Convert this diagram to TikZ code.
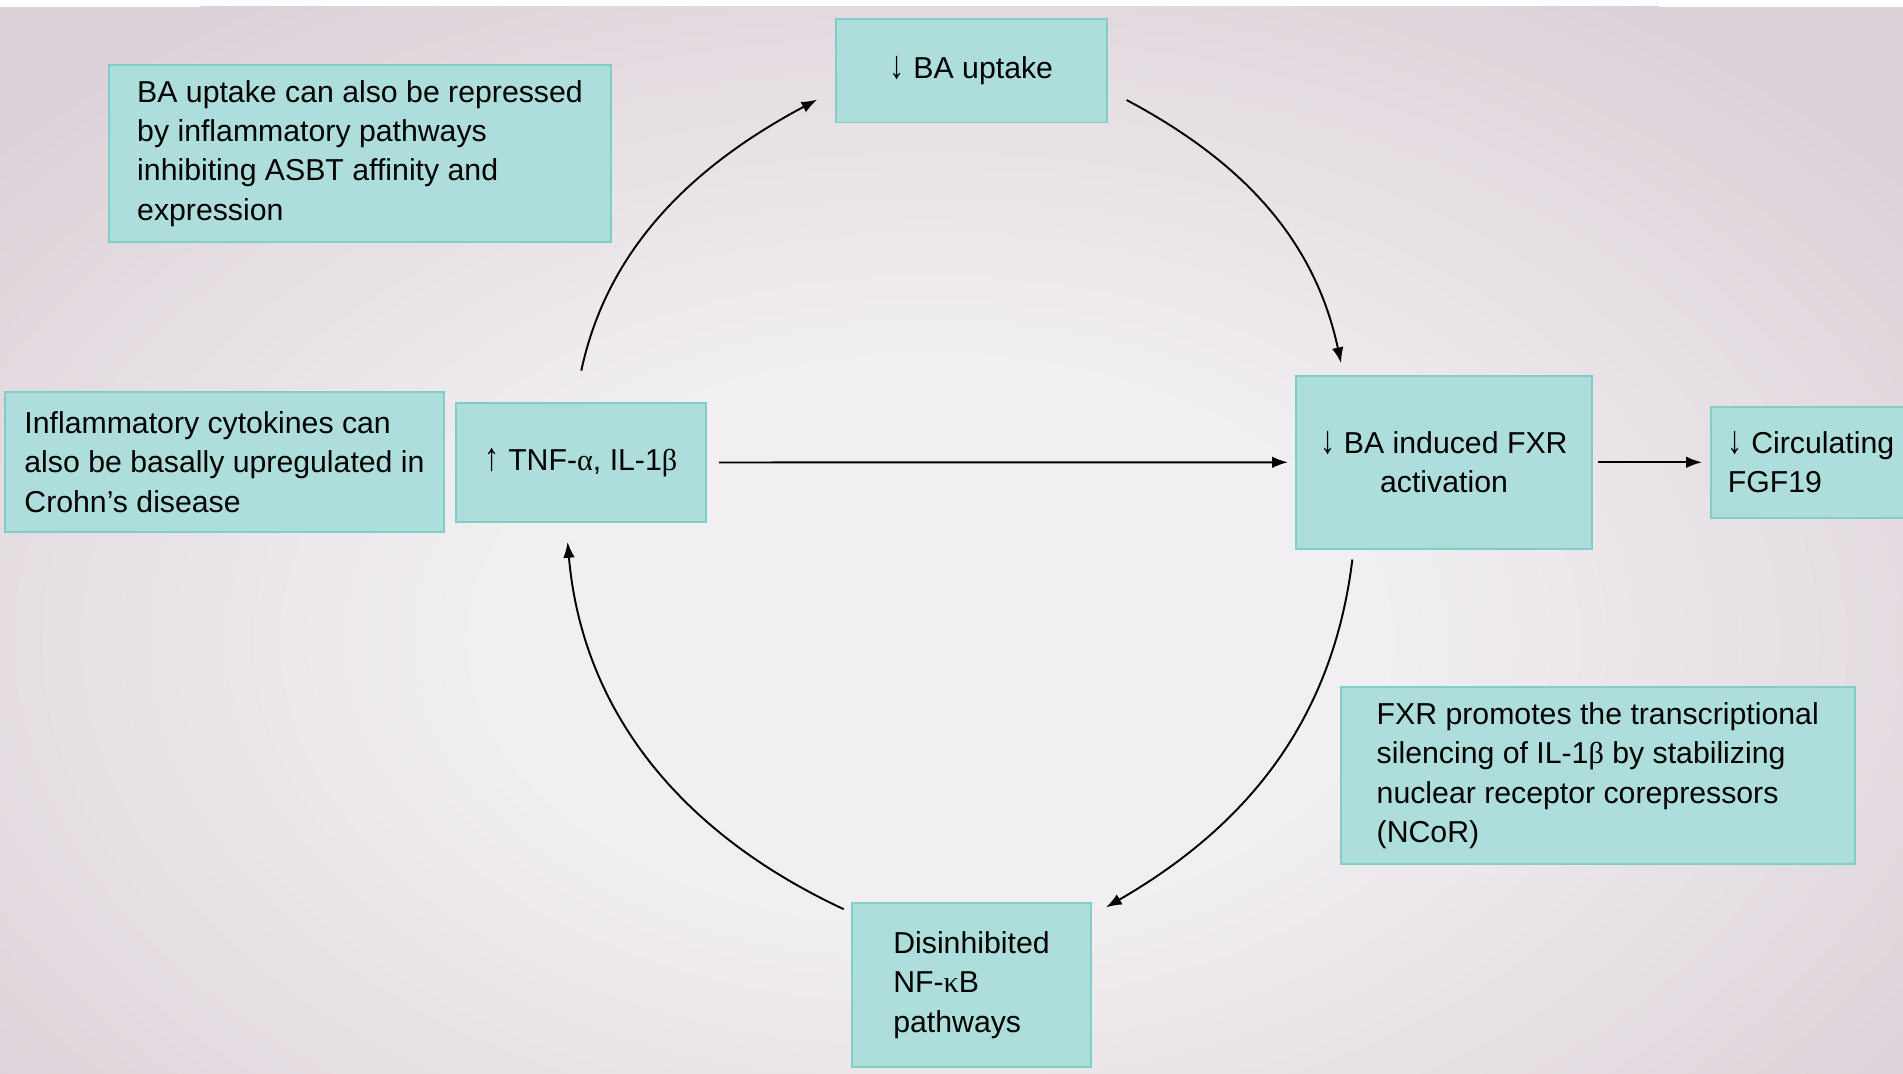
\documentclass[tikz,border=0pt]{standalone}
\usepackage{fontspec}
\setmainfont{Liberation Sans}
\newfontfamily\grk{Liberation Serif}
\usetikzlibrary{arrows.meta}
\definecolor{boxfill}{HTML}{ADDEDB}
\definecolor{boxline}{HTML}{7FCFC8}
\definecolor{bgin}{HTML}{F1EFF1}
\definecolor{bgout}{HTML}{DCD1D8}
\pgfdeclareradialshading{bgshade}{\pgfpoint{0bp}{0bp}}{color(0bp)=(bgin); color(9bp)=(bgin); color(25bp)=(bgout); color(50bp)=(bgout)}
\tikzset{
	box/.style={draw=boxline, fill=boxfill, line width=0.55pt, inner sep=0pt, align=left, font={\fontsize{8.6pt}{11.2pt}\selectfont}},
	arr/.style={-{Latex[length=4.5pt,width=3.3pt]}, line width=0.55pt, black},
}
\newcommand{\gl}[1]{{\grk #1}}
\newcommand{\dn}{\scalebox{1}[1.3]{\grk ↓}}
\newcommand{\upar}{\scalebox{1}[1.3]{\grk ↑}}

\begin{document}
\begin{tikzpicture}[x=0.01cm, y=0.01cm]
		%%%%% START %%%%%
		\useasboundingbox (0,0) rectangle (1903,-1074);
		\clip (0,0) rectangle (1903,-1074);
		
		% background
		\fill[white] (0,0) rectangle (1903,-1074);
		\fill[bgout] (0,-7) rectangle (1903,-1074);
		\begin{scope}
			\clip (0,-7) rectangle (1903,-1074);
			\shade[shading=bgshade] (930,-640) ellipse (1250 and 780);
		\end{scope}
		
		% boxes
		\node[box, minimum width=5.01cm, minimum height=1.76cm] (ascnote) at (360,-153.5)
			{BA uptake can also be repressed\\by inflammatory pathways\\inhibiting ASBT affinity and\\expression};
		\node[box, minimum width=2.71cm, minimum height=1.03cm] (up) at (971.5,-71) {\dn\ BA uptake};
		\node[box, minimum width=4.39cm, minimum height=1.4cm] (cytnote) at (224.5,-462)
			{Inflammatory cytokines can\\also be basally upregulated in\\Crohn’s disease};
		\node[box, minimum width=2.5cm, minimum height=1.19cm] (tnf) at (581,-462.5) {\upar\ TNF-\gl{α}, IL-1\gl{β}};
		\node[box, minimum width=2.96cm, minimum height=1.726cm, align=center] (fxr) at (1444,-462.3) {\dn\ BA induced FXR\\activation};
		\node[box, anchor=west, minimum width=2.0cm, minimum height=1.114cm] (fgf) at (1710,-462.3)
			{\dn\ Circulating\\FGF19};
		\node[box, minimum width=5.135cm, minimum height=1.77cm] (fxrnote) at (1597.75,-775.5)
			{FXR promotes the transcriptional\\silencing of IL-1\gl{β} by stabilizing\\nuclear receptor corepressors\\(NCoR)};
		\node[box, minimum width=2.39cm, minimum height=1.64cm] (nfkb) at (971.5,-985)
			{Disinhibited\\NF-\gl{κ}B\\pathways};
		
		% arrows
		\draw[arr, shorten <=0.12cm, shorten >=0.07cm] (tnf.east) -- (fxr.west);
		\draw[arr, shorten <=0.05cm, shorten >=0.08cm] (fxr.east) -- (fgf.west);
		\draw[arr, shorten <=0.32cm, shorten >=0.2cm] (tnf.96) to[out=78, in=208] (up.188);
		\draw[arr, shorten <=0.21cm, shorten >=0.12cm] (up.-8) to[out=-28, in=102] (fxr.139);
		\draw[arr, shorten <=0.1cm, shorten >=0.16cm] (fxr.224) to[out=-97, in=30] (nfkb.30);
		\draw[arr, shorten <=0.08cm, shorten >=0.19cm] (nfkb.149) to[out=155, in=-85] (tnf.256);
		
		%%%%% END %%%%%
\end{tikzpicture}
\end{document}
